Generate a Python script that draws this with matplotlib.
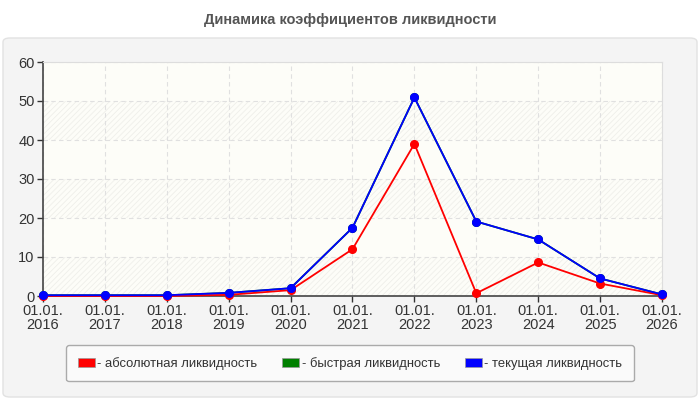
import matplotlib
matplotlib.use("Agg")
import matplotlib.pyplot as plt
from matplotlib.patches import FancyBboxPatch, Patch

plt.rcParams["font.family"] = ["Liberation Sans", "DejaVu Sans"]
plt.rcParams["hatch.linewidth"] = 0.6

# ---- data ----
years = ["2016", "2017", "2018", "2019", "2020", "2021", "2022", "2023", "2024", "2025", "2026"]
tick_labels = ["01.01.\n" + y for y in years]
absolute = [0.0, 0.0, 0.0, 0.3, 1.5, 12.0, 39.0, 0.7, 8.6, 3.2, 0.2]
current = [0.2, 0.2, 0.2, 0.8, 2.0, 17.5, 50.9, 19.1, 14.5, 4.5, 0.4]
quick = current  # hidden under the blue line in the reference

series_names = ["- абсолютная ликвидность", "- быстрая ликвидность", "- текущая ликвидность"]
series_colors = ["#ff0000", "#008000", "#0000ff"]


def main():
    fig = plt.figure(figsize=(7, 4), dpi=100)
    fig.patch.set_facecolor("white")

    # outer grey panel
    panel = FancyBboxPatch((3 / 700, 3 / 400), 694 / 700, 359 / 400,
                           boxstyle="round,pad=0,rounding_size=0.01",
                           transform=fig.transFigure, facecolor="#f4f4f4",
                           edgecolor="#e2e2e2", linewidth=1, zorder=-5)
    fig.patches.append(panel)

    fig.text(0.5, 1 - 20 / 400, "Динамика коэффициентов ликвидности",
             ha="center", va="center", fontsize=10.5, fontweight="bold", color="#555555")

    ax = fig.add_axes([43 / 700, 104 / 400, 619 / 700, 234 / 400])
    ax.set_zorder(2)
    ax.set_facecolor("#fdfdf8")

    # alternating hatched bands
    for lo in range(0, 60, 20):
        ax.axhspan(lo, lo + 10, facecolor="none", edgecolor="#efefea",
                   hatch="//////", linewidth=0, zorder=0)

    x = list(range(len(years)))
    ax.plot(x, quick, color=series_colors[1], lw=1.3, marker="o", ms=5.5, zorder=3, clip_on=False)
    ax.plot(x, absolute, color=series_colors[0], lw=1.3, marker="o", ms=5.5, zorder=4, clip_on=False)
    ax.plot(x, current, color=series_colors[2], lw=1.3, marker="o", ms=5.5, zorder=5, clip_on=False)

    ax.set_xlim(0, len(years) - 1)
    ax.set_ylim(0, 60)
    ax.set_yticks(range(0, 61, 10))
    ax.set_xticks(x)
    ax.set_xticklabels(tick_labels, linespacing=1.0)
    ax.tick_params(labelsize=10.5, colors="#333333", length=4, width=1, pad=2)

    ax.grid(True, color="#e0e0e0", linestyle=(0, (4, 3)), linewidth=0.8)
    ax.set_axisbelow(True)
    for side in ["top", "right"]:
        ax.spines[side].set_color("#dddddd")
    for side in ["left", "bottom"]:
        ax.spines[side].set_color("#444444")
        ax.spines[side].set_linewidth(1.2)

    handles = [Patch(facecolor=c, edgecolor="#999999", linewidth=0.5) for c in series_colors]
    leg = fig.legend(handles, series_names, loc="upper center",
                     bbox_to_anchor=(66 / 700, 17 / 400, 568 / 700, 38 / 400),
                     mode="expand", ncol=3, fontsize=9.4, frameon=True, fancybox=True,
                     handlelength=1.3, handleheight=0.7, handletextpad=0.2,
                     borderaxespad=0, borderpad=0.9, columnspacing=2.0)
    frame = leg.get_frame()
    frame.set_facecolor("#fafafa")
    frame.set_edgecolor("#aaaaaa")
    frame.set_alpha(1)
    for t in leg.get_texts():
        t.set_color("#333333")

    fig.savefig("out.png", dpi=100)
    plt.close(fig)


if __name__ == "__main__":
    main()
